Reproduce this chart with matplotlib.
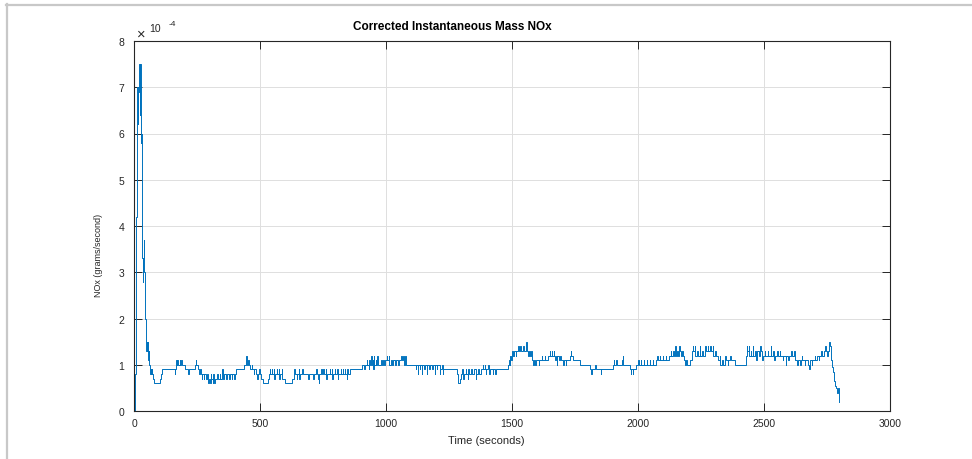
import numpy as np
import matplotlib
matplotlib.use('Agg')
import matplotlib.pyplot as plt
from matplotlib.lines import Line2D

# NOx mass rate: time in seconds, value in units of 1e-4 g/s (held until next time)
t_sec = [0, 2, 4, 6, 8, 10, 12, 14, 16, 18,
         20, 22, 24, 26, 28, 30, 32, 34, 36, 38,
         40, 42, 44, 46, 48, 50, 52, 54, 56, 58,
         60, 62, 64, 66, 68, 70, 72, 74, 77, 103,
         106, 110, 160, 162, 165, 168, 170, 175, 180, 182,
         186, 190, 200, 215, 217, 240, 244, 246, 252, 257,
         259, 264, 268, 270, 276, 278, 284, 290, 294, 296,
         302, 304, 306, 312, 314, 316, 322, 330, 332, 340,
         342, 350, 352, 358, 366, 368, 376, 378, 386, 388,
         396, 398, 404, 436, 443, 445, 447, 452, 454, 460,
         466, 468, 474, 476, 482, 488, 490, 497, 499, 504,
         510, 531, 535, 538, 540, 545, 547, 554, 556, 558,
         566, 568, 574, 576, 578, 586, 588, 600, 628, 632,
         635, 637, 644, 646, 652, 654, 656, 666, 668, 690,
         692, 710, 712, 722, 724, 730, 733, 735, 742, 744,
         750, 752, 760, 762, 764, 775, 777, 783, 785, 787,
         796, 798, 806, 808, 810, 820, 822, 828, 830, 836,
         838, 844, 846, 848, 856, 905, 912, 914, 922, 924,
         930, 932, 934, 940, 942, 946, 948, 950, 952, 958,
         960, 964, 966, 980, 982, 988, 990, 996, 1003, 1005,
         1010, 1012, 1018, 1024, 1026, 1036, 1038, 1048, 1050, 1060,
         1062, 1068, 1070, 1076, 1078, 1118, 1120, 1126, 1128, 1134,
         1136, 1142, 1144, 1152, 1154, 1160, 1162, 1170, 1172, 1182,
         1184, 1192, 1194, 1200, 1202, 1212, 1214, 1222, 1224, 1226,
         1282, 1286, 1292, 1298, 1302, 1306, 1308, 1316, 1318, 1324,
         1326, 1328, 1338, 1340, 1350, 1356, 1358, 1366, 1368, 1378,
         1384, 1386, 1392, 1394, 1396, 1398, 1406, 1408, 1410, 1412,
         1422, 1424, 1432, 1434, 1484, 1487, 1490, 1493, 1496, 1499,
         1504, 1506, 1514, 1516, 1524, 1526, 1532, 1534, 1544, 1546,
         1555, 1557, 1563, 1568, 1570, 1576, 1578, 1580, 1584, 1588,
         1592, 1594, 1605, 1607, 1618, 1620, 1630, 1632, 1642, 1650,
         1652, 1657, 1659, 1666, 1668, 1670, 1674, 1678, 1680, 1686,
         1690, 1692, 1702, 1704, 1712, 1714, 1729, 1733, 1735, 1742,
         1769, 1808, 1814, 1816, 1830, 1832, 1852, 1854, 1900, 1904,
         1906, 1914, 1916, 1936, 1939, 1941, 1966, 1970, 1972, 1978,
         1980, 1990, 2000, 2002, 2010, 2012, 2022, 2024, 2034, 2036,
         2046, 2048, 2058, 2060, 2070, 2076, 2078, 2086, 2088, 2098,
         2100, 2110, 2112, 2122, 2130, 2132, 2140, 2142, 2148, 2150,
         2156, 2158, 2164, 2166, 2172, 2176, 2178, 2182, 2186, 2192,
         2194, 2206, 2212, 2216, 2218, 2224, 2226, 2234, 2236, 2244,
         2246, 2254, 2256, 2266, 2268, 2276, 2278, 2286, 2288, 2296,
         2298, 2306, 2308, 2318, 2324, 2326, 2334, 2336, 2346, 2348,
         2356, 2358, 2366, 2368, 2384, 2428, 2432, 2434, 2440, 2442,
         2448, 2450, 2456, 2458, 2466, 2470, 2472, 2478, 2484, 2486,
         2492, 2494, 2502, 2504, 2514, 2516, 2526, 2528, 2536, 2540,
         2542, 2552, 2554, 2562, 2564, 2574, 2576, 2586, 2588, 2596,
         2598, 2608, 2610, 2620, 2622, 2632, 2634, 2644, 2646, 2650,
         2652, 2662, 2664, 2674, 2680, 2682, 2690, 2692, 2702, 2704,
         2712, 2718, 2720, 2728, 2730, 2738, 2742, 2744, 2750, 2752,
         2758, 2761, 2764, 2767, 2770, 2773, 2776, 2779, 2783, 2787,
         2790, 2793, 2796, 2798]
nox_e4 = [0.0, 0.05, 0.8, 2.5, 4.2, 5.8, 7.0, 6.2, 6.9, 7.2,
          7.5, 6.4, 7.5, 5.8, 6.0, 4.2, 3.3, 2.8, 3.3, 3.7,
          3.0, 2.4, 2.0, 1.6, 1.3, 1.5, 1.3, 1.5, 1.1, 1.3,
          1.0, 0.9, 0.8, 0.9, 0.8, 0.9, 0.8, 0.7, 0.6, 0.7,
          0.8, 0.9, 0.8, 0.9, 1.1, 1.0, 1.1, 1.0, 1.1, 1.0,
          1.1, 1.0, 0.9, 0.8, 0.9, 1.0, 1.1, 1.0, 0.9, 0.8,
          0.9, 0.8, 0.7, 0.8, 0.7, 0.8, 0.7, 0.8, 0.6, 0.7,
          0.6, 0.8, 0.7, 0.6, 0.8, 0.6, 0.7, 0.8, 0.7, 0.8,
          0.7, 0.9, 0.7, 0.8, 0.7, 0.8, 0.7, 0.8, 0.7, 0.8,
          0.7, 0.8, 0.9, 1.0, 1.1, 1.2, 1.0, 1.1, 1.0, 0.9,
          1.0, 0.9, 0.8, 0.9, 0.8, 0.7, 0.8, 0.9, 0.8, 0.7,
          0.6, 0.7, 0.8, 0.9, 0.8, 0.9, 0.8, 0.9, 0.7, 0.8,
          0.9, 0.8, 0.9, 0.7, 0.8, 0.9, 0.7, 0.6, 0.7, 0.8,
          0.9, 0.8, 0.7, 0.8, 0.9, 0.7, 0.8, 0.9, 0.8, 0.7,
          0.8, 0.7, 0.8, 0.9, 0.8, 0.7, 0.6, 0.8, 0.9, 0.8,
          0.9, 0.8, 0.9, 0.7, 0.8, 0.9, 0.8, 0.9, 0.7, 0.8,
          0.9, 0.8, 0.9, 0.7, 0.8, 0.9, 0.8, 0.9, 0.8, 0.9,
          0.8, 0.7, 0.9, 0.8, 0.9, 1.0, 0.9, 1.0, 1.1, 1.0,
          0.9, 1.1, 1.0, 1.2, 1.0, 1.1, 0.9, 1.2, 1.0, 1.1,
          1.0, 1.2, 1.0, 1.1, 1.0, 1.1, 1.0, 1.1, 1.2, 1.1,
          1.2, 1.0, 1.1, 1.0, 1.1, 1.0, 1.1, 1.0, 1.1, 1.2,
          1.1, 1.2, 1.0, 1.2, 1.0, 0.9, 1.0, 0.8, 1.0, 0.9,
          1.0, 0.8, 1.0, 0.9, 1.0, 0.8, 1.0, 0.9, 1.0, 0.9,
          1.0, 0.8, 1.0, 0.9, 1.0, 0.8, 0.9, 1.0, 0.8, 0.9,
          0.8, 0.6, 0.7, 0.8, 0.9, 0.7, 0.8, 0.9, 0.8, 0.7,
          0.9, 0.8, 0.9, 0.8, 0.9, 0.7, 0.8, 0.9, 0.8, 0.9,
          1.0, 0.9, 1.0, 0.9, 0.8, 0.9, 1.0, 0.9, 0.8, 0.9,
          0.8, 0.9, 0.8, 0.9, 1.0, 1.1, 1.0, 1.2, 1.1, 1.3,
          1.2, 1.3, 1.2, 1.3, 1.4, 1.3, 1.4, 1.3, 1.4, 1.3,
          1.5, 1.3, 1.2, 1.3, 1.2, 1.3, 1.2, 1.1, 1.0, 1.1,
          1.0, 1.1, 1.0, 1.1, 1.2, 1.1, 1.2, 1.1, 1.2, 1.3,
          1.2, 1.3, 1.2, 1.3, 1.2, 1.1, 1.2, 1.0, 1.2, 1.1,
          1.2, 1.1, 1.0, 1.1, 1.0, 1.1, 1.2, 1.3, 1.2, 1.1,
          1.0, 0.9, 0.8, 0.9, 1.0, 0.9, 0.8, 0.9, 1.0, 1.1,
          1.0, 1.1, 1.0, 1.1, 1.2, 1.0, 0.9, 0.8, 0.9, 0.8,
          0.9, 1.0, 1.1, 1.0, 1.1, 1.0, 1.1, 1.0, 1.1, 1.0,
          1.1, 1.0, 1.1, 1.0, 1.1, 1.2, 1.1, 1.2, 1.1, 1.2,
          1.1, 1.2, 1.1, 1.2, 1.3, 1.2, 1.3, 1.2, 1.4, 1.2,
          1.3, 1.2, 1.4, 1.3, 1.2, 1.3, 1.2, 1.1, 1.0, 1.1,
          1.0, 1.1, 1.3, 1.4, 1.3, 1.4, 1.2, 1.3, 1.2, 1.4,
          1.2, 1.3, 1.2, 1.4, 1.3, 1.4, 1.3, 1.4, 1.3, 1.4,
          1.2, 1.3, 1.2, 1.1, 1.2, 1.0, 1.1, 1.0, 1.2, 1.1,
          1.0, 1.1, 1.2, 1.1, 1.0, 1.2, 1.4, 1.3, 1.4, 1.2,
          1.3, 1.2, 1.4, 1.2, 1.3, 1.1, 1.3, 1.2, 1.4, 1.3,
          1.1, 1.2, 1.3, 1.2, 1.3, 1.2, 1.4, 1.2, 1.3, 1.1,
          1.2, 1.3, 1.2, 1.3, 1.2, 1.1, 1.2, 1.0, 1.2, 1.1,
          1.2, 1.3, 1.2, 1.3, 1.1, 1.0, 1.1, 1.0, 1.1, 1.2,
          1.1, 1.0, 1.1, 1.0, 0.9, 1.1, 1.0, 1.1, 1.2, 1.1,
          1.2, 1.1, 1.2, 1.3, 1.2, 1.3, 1.4, 1.3, 1.2, 1.3,
          1.5, 1.4, 1.25, 1.1, 0.95, 0.85, 0.75, 0.65, 0.55, 0.5,
          0.4, 0.5, 0.3, 0.2]

x_ticks = [0, 500, 1000, 1500, 2000, 2500, 3000]
y_ticks = [0, 1, 2, 3, 4, 5, 6, 7, 8]

plt.rcParams['font.family'] = ['Liberation Sans', 'DejaVu Sans']
plt.rcParams['font.size'] = 7.5
plt.rcParams['axes.linewidth'] = 0.8
plt.rcParams['xtick.direction'] = 'in'
plt.rcParams['ytick.direction'] = 'in'

W, H = 972, 460
fig = plt.figure(figsize=(W / 100, H / 100), dpi=100)
ax = fig.add_axes([134.3 / W, 1 - 412 / H, (890 - 134.3) / W, (412 - 42) / H])

nox = np.array(nox_e4) * 1e-4
ax.plot(t_sec, nox, color='#0072BD', lw=0.7, drawstyle='steps-post')

ax.set_xlim(0, 3000)
ax.set_ylim(0, 8e-4)
ax.set_xticks(x_ticks)
ax.set_xticklabels([str(v) for v in x_ticks])
ax.set_yticks([v * 1e-4 for v in y_ticks])
ax.set_yticklabels([str(v) for v in y_ticks])
ax.grid(True, color='#dedede', lw=0.7)
ax.set_axisbelow(True)
for s in ax.spines.values():
    s.set_color('#262626')
ax.tick_params(which='both', top=True, right=True, length=5.5, width=0.7,
               color='#262626', labelcolor='#262626')
ax.tick_params(axis='x', pad=5)
ax.tick_params(axis='y', pad=7)

# MATLAB-style exponent above the y axis
fig.text(141 / W, 1 - 35 / H, '\u00d7', fontsize=10.5, color='#262626', ha='center', va='center')
fig.text(155.5 / W, 1 - 29.5 / H, '10', fontsize=7.5, color='#262626', ha='center', va='center')
fig.text(172 / W, 1 - 24 / H, '-4', fontsize=6, color='#262626', ha='center', va='center')

fig.text(452 / W, 1 - 27 / H, 'Corrected Instantaneous Mass NOx', fontsize=8.5,
         fontweight='bold', ha='center', va='center')
fig.text(486 / W, 1 - 441 / H, 'Time (seconds)', fontsize=8, color='#262626',
         ha='center', va='center')
fig.text(98 / W, 1 - 255 / H, 'NOx (grams/second)', fontsize=6.5, color='#262626',
         rotation=90, ha='center', va='center')

# window frame along top and left edges
fig.add_artist(Line2D([6 / W, 1], [1 - 5.5 / H, 1 - 5.5 / H], color='#c8c8c8', lw=1.6))
fig.add_artist(Line2D([6.5 / W, 6.5 / W], [0, 1 - 5 / H], color='#c8c8c8', lw=1.6))

fig.savefig('out.png', dpi=100)
